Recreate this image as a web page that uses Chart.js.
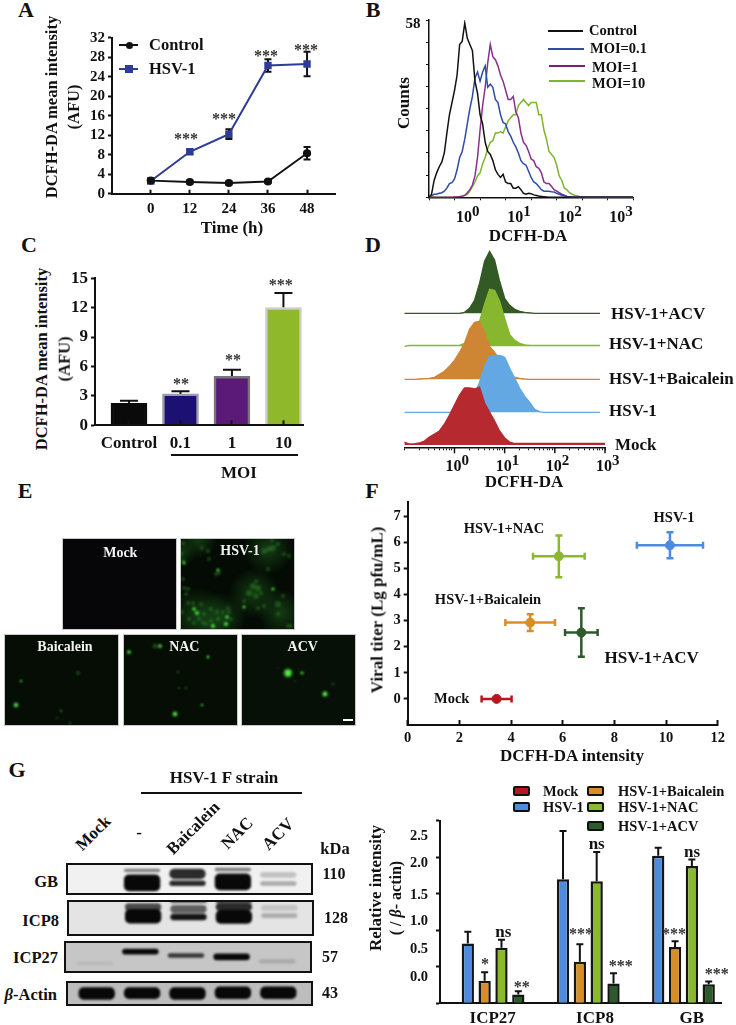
<!DOCTYPE html>
<html>
<head>
<meta charset="utf-8">
<title>HSV-1 ROS figure</title>
<script src="https://cdn.jsdelivr.net/npm/chart.js@4"></script>
<style>
  html, body { margin: 0; padding: 0; background: #fff; }
  #fig { position: relative; width: 736px; height: 1025px; overflow: hidden; font-family: "Liberation Serif", serif; font-weight: bold; color: #111; }
  #fig canvas { position: absolute; }
  .txt { position: absolute; white-space: nowrap; line-height: 1; }
  .rule { position: absolute; background: #111; }
  .blot { position: absolute; box-sizing: border-box; border: 2px solid #111; overflow: hidden; }
  .micro { position: absolute; box-sizing: border-box; border: 1px solid #c8c8c8; overflow: hidden; }
  .swatch { position: absolute; box-sizing: border-box; border: 2px solid #111; border-radius: 2px; width: 17px; height: 10px; }
</style>
</head>
<body>
<div id="fig"></div>
<script>
// Panel A
const timeHours = [0, 12, 24, 36, 48];
const controlMean = [2.7, 2.4, 2.2, 2.5, 8.3];
const controlErr = [0.4, 0.3, 0.3, 0.3, 1.3];
const hsvMean = [2.6, 8.6, 12.2, 26.3, 26.6];
const hsvErr = [0.3, 0.4, 1.0, 1.3, 2.5];

// Panel B, counts per bin, bins are log10 of intensity
const bBins = [-1, -0.95, -0.9, -0.85, -0.8, -0.75, -0.7, -0.65, -0.6, -0.55, -0.5, -0.45, -0.4, -0.35, -0.3, -0.25, -0.2, -0.15, -0.1, -0.05, 0, 0.05, 0.1, 0.15, 0.2, 0.25, 0.3, 0.35, 0.4, 0.45, 0.5, 0.55, 0.6, 0.65, 0.7, 0.75, 0.8, 0.85, 0.9, 0.95, 1, 1.05, 1.1, 1.15, 1.2, 1.25, 1.3, 1.35, 1.4, 1.45, 1.5, 1.55, 1.6, 1.65, 1.7, 1.75, 1.8, 1.85, 1.9, 1.95, 2, 2.05, 2.1, 3];
const bControl = [0, 1, 5.5, 8, 10, 11.5, 14.5, 21, 27, 31, 35, 40, 50, 51, 57, 52, 50, 48, 38, 34, 27, 24, 18, 15, 14, 12, 9, 7.5, 6.5, 7.5, 5, 4.5, 4.5, 3, 3, 3.5, 2.5, 1.3, 1, 1.3, 1.2, 0.8, 0.6, 0.4, 0.3, 0.2, 0.1];
const bMoi01 = [0, 0.5, 1, 1, 1.3, 1.5, 2, 3, 4.5, 4.8, 6, 9, 13, 15, 19, 24, 29, 33, 39, 41, 38, 41, 43, 36, 37, 36, 32, 31, 27, 24.5, 24, 21.5, 20, 18, 16.5, 14.5, 12, 11, 10.5, 8.5, 6.5, 5, 4.5, 3.5, 2.5, 2, 2, 2, 1.8, 1.7, 1.3, 1, 0.7, 0.5, 0.3, 0.2];
const bMoi1 = [0, 0, 0, 0, 0, 0, 0, 0, 0, 0, 0.1, 0.1, 0.2, 0.3, 0.6, 1.5, 2.5, 4, 7, 13, 22, 30, 36, 44, 50, 46, 45, 43, 40, 38, 35, 32, 32, 33, 28, 26, 21, 18, 17, 15, 12.5, 12, 10, 9.5, 8, 5, 4.5, 4.5, 3.5, 2.5, 2, 1.5, 1, 0.7, 0.3, 0.2];
const bMoi10 = [0, 0, 0, 0, 0, 0, 0, 0, 0, 0, 0.1, 0.2, 0.3, 0.5, 0.7, 1, 2, 3.5, 5, 7, 8, 11, 13, 16, 18, 18.5, 21, 21, 21.5, 21, 23, 25, 26, 27, 27, 30, 31, 32, 31, 30, 31, 31, 31, 27, 27, 22, 19, 15, 14, 13, 10.5, 7, 5.5, 3, 2.5, 1.5, 1, 0.7, 0.5, 0.3, 0.2, 0.1];

// Panel C
const moiLabels = ['Control', '0.1', '1', '10'];
const moiMean = [2.25, 3.2, 5.0, 12.0];
const moiErr = [0.25, 0.27, 0.66, 1.5];

// Panel D, offset histograms, bins are log10 of intensity
const dBins = [-1, -0.9, -0.8, -0.7, -0.6, -0.5, -0.4, -0.3, -0.2, -0.1, 0, 0.1, 0.2, 0.3, 0.4, 0.5, 0.6, 0.7, 0.8, 0.9, 1, 1.1, 1.2, 1.3, 1.4, 1.5, 1.6, 1.7, 1.8, 1.9, 2, 2.1, 2.2, 2.3, 2.4, 2.5, 2.6, 2.7, 2.8, 2.9, 3];
const dMock = [3, 1, 1, 2, 4, 8, 11, 14, 21, 30, 40, 50, 57, 57, 56, 58, 42, 33, 24, 14, 7, 3, 1.5, 1.5, 1.5, 1.5, 1.5, 1.5, 1.5, 1.5, 1.5, 1.5, 1.5, 1.5, 1.5, 1.5, 1.5, 1.5, 1.5, 1.5, 1.5];
const dHsv = [0, 0, 0, 0, 0, 0, 0, 0, 0, 0, 1, 2, 4, 8, 18, 30, 46, 56, 57, 57, 55, 44, 34, 24, 16, 10, 3, 0.5, 0, 0, 0, 0, 0, 0, 0, 0, 0, 0, 0, 0];
const dBaicalein = [0, 0, 0, 0.3, 0.7, 1, 2, 5, 8, 13, 19, 27, 36, 50, 57, 58, 47, 33, 27, 20, 12, 6, 2, 1, 0.3, 0, 0, 0, 0, 0, 0, 0, 0, 0, 0, 0, 0, 0, 0, 0];
const dNac = [0, 1, 1, 1, 1, 1, 1, 1, 1, 1, 1, 1, 3, 8, 14, 25, 42, 57, 56, 45, 28, 12, 6, 3, 1.5, 1, 1, 1, 1, 1, 1, 1, 1, 1, 1, 1, 1, 1, 1, 1];
const dAcv = [0, 0, 0, 0, 0, 0, 0, 0, 0, 0, 0, 0, 1, 5, 13, 30, 52, 62, 53, 32, 15, 8, 4, 2, 1, 0.5, 0, 0, 0, 0, 0, 0, 0, 0, 0, 0, 0, 0, 0, 0];
const laneBase = [2.3, 35, 68, 101, 134];

// Panel E, micrograph spots: x, y, radius read in image pixels
const hsvHaze = [[18, 1, 20], [88, 11, 26], [74, 55, 26], [18, 78, 30], [41, 80, 26], [101, 75, 24], [1, 15, 14]];
const hsvDim = [[22, 10, 2], [29, 21, 2], [4, 50, 2], [8, 51, 2], [8, 65, 2], [13, 65, 2], [2, 74, 2], [9, 81, 2], [14, 85, 2], [24, 76, 2], [37, 74, 2], [43, 74, 2], [49, 74, 2], [51, 81, 2], [38, 81, 2], [31, 83, 2], [26, 86, 2], [98, 66, 3], [103, 58, 2], [73, 48, 3], [78, 50, 3], [69, 55, 3], [76, 58, 2.5], [81, 55, 2], [64, 63, 2], [93, 10, 3], [84, 13, 3], [89, 11, 2.5], [98, 6, 2], [92, 2, 2], [104, 16, 2], [109, 18, 2], [3, 5, 2], [1, 16, 2], [3, 23, 2], [108, 88, 2], [111, 88, 2], [48, 70, 2], [31, 71, 2], [19, 81, 2], [23, 85, 2], [21, 66, 2], [6, 56, 2], [3, 41, 2], [39, 35, 2], [36, 36, 2], [98, 76, 2], [84, 68, 2], [78, 70, 2], [88, 31, 2], [76, 43, 2], [28, 13, 2]];
const hsvBright = [[93, 51, 1.3], [64, 69, 1.3], [14, 71, 1.5], [17, 75, 1.7], [46, 86, 1.7], [47, 79, 1.5], [33, 88, 1.7], [38, 32, 1.3], [4, 25, 1.3]];
const baicaleinDim = [[66, 89, 1.5], [53, 84, 1.2], [74, 39, 2]];
const baicaleinBright = [[17, 47, 1], [12, 71, 1.9], [57, 77, 0.8]];
const nacDim = [[32, 12, 2.5], [55, 38, 1.5], [63, 54, 1.5]];
const nacBright = [[6, 18, 1.6], [37, 12, 1.6], [85, 23, 1.2], [56, 54, 0.6], [79, 71, 1], [52, 80, 2]];
const acvDim = [[54, 47, 1], [92, 50, 1.5], [37, 34, 0.7]];
const acvBright = [[47, 39, 3.4], [61, 39, 1.3], [84, 60, 2.2]];

// Panel F
const titerGroups = ['Mock', 'HSV-1', 'HSV-1+NAC', 'HSV-1+Baicalein', 'HSV-1+ACV'];
const titerX = [3.44, 10.15, 5.85, 4.74, 6.72];
const titerXErr = [0.58, 1.28, 1.0, 0.96, 0.63];
const titerY = [0, 5.88, 5.46, 2.92, 2.54];
const titerYErr = [0, 0.5, 0.8, 0.32, 0.93];

// Panel G, blots: one [top, bottom] span per lane for each band, with its darkness
const blotLanes = ['Mock', '-', 'Baicalein', 'NAC', 'ACV'];
const gbUpper = [null, [0.18, 0.28], [0.18, 0.5], [0.15, 0.26], [0.28, 0.46]];
const gbUpperDark = [0, 0.5, 0.85, 0.5, 0.2];
const gbLower = [null, [0.36, 0.88], [0.55, 0.72], [0.33, 0.85], [0.57, 0.71]];
const gbLowerDark = [0, 1, 0.85, 1, 0.3];
const icp8Edge = [null, null, [0, 0.07], [0, 0.07], null];
const icp8EdgeDark = [0, 0, 0.9, 0.9, 0];
const icp8Upper = [null, [0.09, 0.3], [0.14, 0.36], [0.08, 0.3], [0.14, 0.3]];
const icp8UpperDark = [0, 0.7, 0.6, 0.85, 0.15];
const icp8Lower = [null, [0.25, 0.65], [0.38, 0.56], [0.28, 0.66], [0.37, 0.5]];
const icp8LowerDark = [0, 1, 0.95, 1, 0.25];
const icp27Band = [[0.65, 0.75], [0.24, 0.42], [0.38, 0.52], [0.39, 0.6], [0.57, 0.7]];
const icp27Dark = [0.07, 1, 0.75, 1, 0.15];
const actinBand = [[0.25, 0.75], [0.25, 0.72], [0.25, 0.75], [0.22, 0.72], [0.22, 0.72]];
const actinDark = [1, 1, 1, 1, 1];

// Panel G, quantification, order of proteins: ICP27, ICP8, GB
const proteins = ['ICP27', 'ICP8', 'GB'];
const relMock = [0, 0, 0];
const relHsv = [0.82, 1.70, 2.02];
const relHsvErr = [0.16, 0.66, 0.11];
const relBaicalein = [0.31, 0.57, 0.77];
const relBaicaleinErr = [0.115, 0.24, 0.08];
const relNac = [0.76, 1.67, 1.88];
const relNacErr = [0.11, 0.40, 0.09];
const relAcv = [0.12, 0.27, 0.26];
const relAcvErr = [0.045, 0.14, 0.04];

const fig = document.getElementById('fig');
const INK = '#111';

Chart.defaults.font.family = '"Liberation Serif", serif';
Chart.defaults.font.weight = 'bold';
Chart.defaults.font.size = 15;
Chart.defaults.color = INK;
Chart.defaults.animation = false;
Chart.defaults.responsive = false;
Chart.defaults.plugins.legend.display = false;
Chart.defaults.plugins.tooltip.enabled = false;

// error bars come from dataset.errY / dataset.errX, read through the scales
Chart.register({
  id: 'errorBars',
  beforeDatasetsDraw(chart) {
    const ctx = chart.ctx;
    chart.data.datasets.forEach((ds, d) => {
      if (!ds.errY && !ds.errX) return;
      const meta = chart.getDatasetMeta(d);
      const xs = chart.scales.x, ys = chart.scales.y;
      const cap = ds.errCap || 3.5;
      ctx.save();
      ctx.strokeStyle = ds.errColor || INK;
      ctx.lineWidth = ds.errWidth || 2;
      meta.data.forEach((el, i) => {
        const p = meta._parsed[i];
        ctx.beginPath();
        if (ds.errY && ds.errY[i]) {
          const top = ys.getPixelForValue(p.y + ds.errY[i]);
          const bot = ds.errUpper ? el.y : ys.getPixelForValue(p.y - ds.errY[i]);
          ctx.moveTo(el.x, bot); ctx.lineTo(el.x, top);
          ctx.moveTo(el.x - cap, top); ctx.lineTo(el.x + cap, top);
          if (!ds.errUpper) { ctx.moveTo(el.x - cap, bot); ctx.lineTo(el.x + cap, bot); }
        }
        if (ds.errX && ds.errX[i]) {
          const l = xs.getPixelForValue(p.x - ds.errX[i]);
          const r = xs.getPixelForValue(p.x + ds.errX[i]);
          ctx.moveTo(l, el.y); ctx.lineTo(r, el.y);
          ctx.moveTo(l, el.y - cap); ctx.lineTo(l, el.y + cap);
          ctx.moveTo(r, el.y - cap); ctx.lineTo(r, el.y + cap);
        }
        ctx.stroke();
      });
      ctx.restore();
    });
  }
});

// 10 with a raised exponent under each decade of a log10 axis
Chart.register({
  id: 'powerLabels',
  afterDraw(chart, args, opts) {
    if (!opts.decades) return;
    const ctx = chart.ctx, sx = chart.scales.x;
    ctx.save();
    ctx.fillStyle = INK;
    ctx.textBaseline = 'alphabetic';
    ctx.textAlign = 'left';
    opts.decades.forEach(d => {
      const px = sx.getPixelForValue(d);
      if (opts.majorTick) {
        ctx.strokeStyle = INK; ctx.lineWidth = 1.5;
        ctx.beginPath(); ctx.moveTo(px, sx.top); ctx.lineTo(px, sx.top + opts.majorTick); ctx.stroke();
      }
      ctx.font = 'bold 16px "Liberation Serif"';
      const w1 = ctx.measureText('10').width;
      const left = px + opts.dx - (w1 + 8) / 2;
      ctx.fillText('10', left, sx.top + opts.dy);
      ctx.font = 'bold 15px "Liberation Serif"';
      ctx.fillText(String(d), left + w1, sx.top + opts.dy - 6);
    });
    ctx.restore();
  }
});

function label(text, x, y, o = {}) {
  const el = document.createElement('span');
  el.className = 'txt';
  el.innerHTML = text;
  const ax = o.anchor === 'left' ? '0' : o.anchor === 'right' ? '-100%' : '-50%';
  el.style.left = x + 'px';
  el.style.top = y + 'px';
  el.style.fontSize = (o.size || 15) + 'px';
  if (o.color) el.style.color = o.color;
  el.style.transform = `translate(${ax},-50%)` + (o.rot ? ` rotate(${o.rot}deg)` : '');
  (o.parent || fig).appendChild(el);
}

function stars(text, x, y) {
  label(text, x, y + 4, { size: 16, color: '#333' });
}

function rule(x1, x2, y, color, h) {
  const el = document.createElement('div');
  el.className = 'rule';
  el.style.cssText = `left:${x1}px;top:${y - (h || 2) / 2}px;width:${x2 - x1}px;height:${h || 2}px;background:${color || INK}`;
  fig.appendChild(el);
}

// box and plot are [left, top, right, bottom] on the page
function plotChart(box, plot, cfg) {
  const c = document.createElement('canvas');
  c.width = box[2] - box[0];
  c.height = box[3] - box[1];
  c.style.left = box[0] + 'px';
  c.style.top = box[1] + 'px';
  fig.appendChild(c);
  const o = cfg.options;
  o.layout = { autoPadding: false, padding: { left: 0, bottom: 0, top: plot[1] - box[1], right: box[2] - plot[2] } };
  o.scales.x.afterFit = s => { s.height = box[3] - plot[3]; };
  o.scales.y.afterFit = s => { s.width = plot[0] - box[0]; };
  return new Chart(c, cfg);
}

function axis(extra) {
  return Object.assign({
    border: { color: INK, width: 2 },
    grid: { drawOnChartArea: false, color: INK, tickColor: INK, tickWidth: 2, tickLength: 4 }
  }, extra);
}

function fixedTicks(values) {
  return s => { s.ticks = values.map(v => ({ value: v })); };
}

// soft-edged fill for the out of focus patches in the micrograph
function softFill(c) {
  if (!c.raw) return 'rgba(35,110,35,0.3)';
  const x = c.chart.scales.x.getPixelForValue(c.raw.x);
  const y = c.chart.scales.y.getPixelForValue(c.raw.y);
  if (!isFinite(x) || !isFinite(y)) return 'rgba(35,110,35,0.3)'; // scales not laid out yet
  const g = c.chart.ctx.createRadialGradient(x, y, 0, x, y, c.raw.r);
  g.addColorStop(0, 'rgba(35,110,35,0.5)');
  g.addColorStop(1, 'rgba(35,110,35,0)');
  return g;
}

// Panel letters
label('A', 26, 10, { size: 22 });
label('B', 373, 10, { size: 22 });
label('C', 29, 245, { size: 22 });
label('D', 373, 245, { size: 22 });
label('E', 25, 491, { size: 22 });
label('F', 372, 491, { size: 22 });
label('G', 17, 770, { size: 22 });

// --- A ---
plotChart([60, 15, 352, 225], [112, 37.7, 335.7, 193.7], {
  type: 'line',
  data: {
    datasets: [
      { data: timeHours.map((x, i) => ({ x, y: controlMean[i] })), borderColor: '#111', backgroundColor: '#111', borderWidth: 1.8, pointRadius: 3.2, tension: 0, errY: controlErr, errWidth: 2 },
      { data: timeHours.map((x, i) => ({ x, y: hsvMean[i] })), borderColor: '#2e3c96', backgroundColor: '#2e3c96', borderWidth: 2, pointStyle: 'rect', pointRadius: 3.8, tension: 0, errY: hsvErr, errWidth: 2 }
    ]
  },
  options: {
    scales: {
      x: axis({ type: 'linear', min: -11.9, max: 56.8, afterBuildTicks: fixedTicks(timeHours),
        grid: { drawOnChartArea: false, tickColor: INK, tickWidth: 2, tickLength: -4 },
        ticks: { padding: 10, maxRotation: 0, callback: v => v } }),
      y: axis({ min: 0, max: 32, ticks: { stepSize: 4, padding: 3, autoSkip: false } })
    }
  }
});
label('DCFH-DA mean intensity', 52, 107, { size: 16.5, rot: -90 });
label('(AFU)', 74, 107, { size: 16.5, rot: -90 });
label('Time (h)', 232, 227, { size: 17 });
rule(119, 138, 45, '#111', 2);
label('Control', 149, 44.5, { anchor: 'left', size: 16.5 });
rule(119, 138, 68.7, '#2e3c96', 2);
label('HSV-1', 149, 69, { anchor: 'left', size: 16.5 });
stars('***', 186, 135); stars('***', 224, 115); stars('***', 266, 52); stars('***', 306, 45.5);

// legend markers for A, same glyphs as the datasets
(function () {
  const dot = document.createElement('div');
  dot.style.cssText = 'position:absolute;left:125.5px;top:41.5px;width:7px;height:7px;border-radius:50%;background:#111';
  fig.appendChild(dot);
  const sq = document.createElement('div');
  sq.style.cssText = 'position:absolute;left:125px;top:65px;width:7.5px;height:7.5px;background:#2e3c96';
  fig.appendChild(sq);
})();

// --- B ---
const bCurve = vals => bBins.map((x, i) => ({ x, y: vals[i] || 0 }));
plotChart([415, 5, 660, 225], [429, 20, 633.3, 197.3], {
  type: 'line',
  data: {
    datasets: [
      { data: bCurve(bControl), borderColor: '#111' },
      { data: bCurve(bMoi01), borderColor: '#2d4da3' },
      { data: bCurve(bMoi1), borderColor: '#8a2f8a' },
      { data: bCurve(bMoi10), borderColor: '#7fb52e' }
    ]
  },
  options: {
    elements: { point: { radius: 0 }, line: { borderWidth: 1.5, tension: 0 } },
    plugins: { powerLabels: { decades: [0, 1, 2, 3], dx: -12, dy: 25 } },
    scales: {
      x: axis({ type: 'linear', min: -1, max: 3, afterBuildTicks: fixedTicks([-1, -0.5, 0, 0.5, 1, 1.5, 2, 2.5, 3]),
        border: { color: INK, width: 1.5 },
        grid: { drawOnChartArea: false, tickColor: INK, tickWidth: 1, tickLength: 3 },
        ticks: { callback: () => '' } }),
      y: axis({ min: 0, max: 58, afterBuildTicks: fixedTicks([0, 7.25, 14.5, 21.75, 29, 36.25, 43.5, 50.75, 58]),
        border: { color: INK, width: 1.5 },
        grid: { drawOnChartArea: false, tickColor: INK, tickWidth: 1, tickLength: 3 },
        ticks: { display: false } })
    }
  }
});
label('58', 413, 22.7, { size: 15 });
label('Counts', 403, 103, { size: 17, rot: -90 });
label('DCFH-DA', 528, 235, { size: 17 });
rule(548, 583, 30.7, '#111');
label('Control', 589, 30, { anchor: 'left', size: 14.5 });
rule(548, 584, 49.3, '#2d4da3');
label('MOI=0.1', 590, 48.3, { anchor: 'left', size: 14.5 });
rule(549, 585, 65.7, '#7c1f7c');
label('MOI=1', 592, 67, { anchor: 'left', size: 14.5 });
rule(549, 585, 81.3, '#7fb52e');
label('MOI=10', 592, 83.3, { anchor: 'left', size: 14.5 });

// --- C ---
plotChart([70, 265, 320, 460], [95, 276.7, 303, 425.3], {
  type: 'bar',
  data: {
    datasets: [{
      data: moiMean.map((y, x) => ({ x, y })),
      backgroundColor: ['#0a0a0a', '#1c1172', '#5b1a78', '#8fb92b'],
      borderColor: ['#0a0a0a', '#9a9aa8', '#777', '#ccc'],
      borderWidth: 2.5,
      barThickness: 36,
      errY: moiErr, errUpper: true, errCap: 9, errWidth: 2
    }]
  },
  options: {
    scales: {
      x: axis({ type: 'linear', offset: false, min: -0.66, max: 3.38, afterBuildTicks: fixedTicks([0, 1, 2, 3]),
        border: { color: INK, width: 2, z: 2 },
        grid: { drawOnChartArea: false, offset: false, tickColor: INK, tickWidth: 2, tickLength: -5, z: 1 },
        ticks: { padding: 13, autoSkip: false, font: { size: 17 }, maxRotation: 0, callback: v => moiLabels[v] } }),
      y: axis({ min: 0, max: 15, ticks: { stepSize: 3, padding: 3, font: { size: 17 } } })
    }
  }
});
label('DCFH-DA mean intensity', 42, 359, { size: 16.5, rot: -90 });
label('(AFU)', 65, 359, { size: 16.5, rot: -90 });
rule(171, 298, 455, INK, 2);
label('MOI', 239, 471.5, { size: 17 });
stars('**', 181, 380); stars('**', 233, 356); stars('***', 280.7, 280.7);

// --- D ---
const dCurve = (vals, base) => vals.map((c, i) => ({ x: dBins[i], y: base + c }));
const dLanes = [
  { vals: dMock, color: '#b5292f' },
  { vals: dHsv, color: '#63a8e2' },
  { vals: dBaicalein, color: '#cf8634' },
  { vals: dNac, color: '#87b72f' },
  { vals: dAcv, color: '#335925' }
];
plotChart([390, 240, 620, 478], [404.3, 248, 605, 447.3], {
  type: 'line',
  data: {
    datasets: dLanes.map((l, i) => ({
      data: dCurve(l.vals, laneBase[i]),
      borderColor: l.color,
      backgroundColor: l.color,
      borderWidth: 1.3,
      pointRadius: 0,
      tension: 0,
      fill: { target: { value: laneBase[i] } }
    }))
  },
  options: {
    plugins: { powerLabels: { decades: [0, 1, 2, 3], dx: 3, dy: 24, majorTick: 6 } },
    scales: {
      x: axis({ type: 'linear', min: -1, max: 3,
        afterBuildTicks: fixedTicks([-1, -0.7, -0.52, -0.4, -0.3, -0.22, -0.15, -0.1, -0.05, 0, 0.3, 0.48, 0.6, 0.7, 0.78, 0.85, 0.9, 0.95, 1, 1.3, 1.48, 1.6, 1.7, 1.78, 1.85, 1.9, 1.95, 2, 2.3, 2.48, 2.6, 2.7, 2.78, 2.85, 2.9, 2.95, 3]),
        border: { color: INK, width: 1.5 },
        grid: { drawOnChartArea: false, tickColor: INK, tickWidth: 1, tickLength: 3 },
        ticks: { autoSkip: false, callback: () => '' } }),
      y: { min: 0, max: 199.3, ticks: { display: false }, grid: { display: false }, border: { display: false } }
    }
  }
});
label('HSV-1+ACV', 611, 313, { anchor: 'left', size: 17 });
label('HSV-1+NAC', 609, 343, { anchor: 'left', size: 17 });
label('HSV-1+Baicalein', 609, 378, { anchor: 'left', size: 17 });
label('HSV-1', 609, 410, { anchor: 'left', size: 17 });
label('Mock', 615, 444, { anchor: 'left', size: 17 });
label('DCFH-DA', 524, 481, { size: 17 });

// --- E ---
function micrograph(left, top, bg, name, lx, ly, haze, dim, bright) {
  const wrap = document.createElement('div');
  wrap.className = 'micro';
  wrap.style.cssText = `left:${left}px;top:${top}px;width:115px;height:92px;background:${bg}`;
  fig.appendChild(wrap);
  const c = document.createElement('canvas');
  c.width = 115; c.height = 92;
  c.style.cssText = 'left:-1px;top:-1px;filter:blur(0.8px)';
  wrap.appendChild(c);
  const spots = (list, k) => list.map(s => ({ x: s[0], y: s[1], r: s[2] * k }));
  new Chart(c, {
    type: 'bubble',
    data: {
      datasets: [
        { data: spots(bright, 1), backgroundColor: 'rgba(90,235,70,0.95)', borderWidth: 0 },
        { data: spots(bright, 1.6), backgroundColor: 'rgba(60,190,50,0.28)', borderWidth: 0 },
        { data: spots(dim, 1), backgroundColor: 'rgba(50,140,45,0.45)', borderWidth: 0 },
        { data: spots(haze, 1), backgroundColor: softFill, borderWidth: 0 }
      ]
    },
    options: {
      layout: { autoPadding: false },
      scales: {
        x: { display: false, min: 0, max: 115 },
        y: { display: false, min: 0, max: 92, reverse: true }
      }
    }
  });
  label(name, lx - left, ly - top, { parent: wrap, color: '#f2f2f2', size: 14 });
}
micrograph(62.3, 538, '#060608', 'Mock', 119.3, 551.7, [], [], []);
micrograph(180.3, 538, '#040a04', 'HSV-1', 239, 550, hsvHaze, hsvDim, hsvBright);
micrograph(4.3, 634.3, '#050d05', 'Baicalein', 64, 645.7, [], baicaleinDim, baicaleinBright);
micrograph(123, 634.3, '#050d05', 'NAC', 183.3, 645.7, [], nacDim, nacBright);
micrograph(241, 634.3, '#061006', 'ACV', 301.7, 645.7, [], acvDim, acvBright);
rule(343.3, 353.3, 720, '#fff', 2);

// --- F ---
const titerColors = ['#b8161f', '#4d8be0', '#8ab92d', '#d98e25', '#2b5a2b'];
plotChart([385, 490, 735, 748], [407.7, 500.7, 722.7, 725], {
  type: 'scatter',
  data: {
    datasets: titerGroups.map((g, i) => ({
      label: g,
      data: [{ x: titerX[i], y: titerY[i] }],
      backgroundColor: titerColors[i],
      borderColor: titerColors[i],
      pointRadius: 4.5,
      errX: [titerXErr[i]],
      errY: [titerYErr[i]],
      errColor: titerColors[i],
      errWidth: 2.5,
      errCap: 3.5
    }))
  },
  options: {
    scales: {
      x: axis({ type: 'linear', min: 0, max: 12,
        grid: { drawOnChartArea: false, tickColor: INK, tickWidth: 2, tickLength: -5 },
        ticks: { stepSize: 2, padding: 10, maxRotation: 0, font: { size: 14.5 } } }),
      y: axis({ min: -1, max: 7.55, afterBuildTicks: fixedTicks([0, 1, 2, 3, 4, 5, 6, 7]),
        ticks: { padding: 3, font: { size: 14.5 }, callback: v => v } })
    }
  }
});
label('HSV-1', 674, 516.7, { size: 14.5 });
label('HSV-1+NAC', 504, 528, { size: 14.5 });
label('HSV-1+Baicalein', 488, 599, { size: 14.5 });
label('HSV-1+ACV', 651.7, 656.7, { size: 17 });
label('Mock', 451.7, 698, { size: 14.5 });
label('Viral titer (Lg pfu/mL)', 377, 610, { size: 17, rot: -90 });
label('DCFH-DA intensity', 572, 755, { size: 17 });

// --- G blots ---
function blot(left, top, right, bottom, bg, bands) {
  const w = right - left, h = bottom - top;
  const wrap = document.createElement('div');
  wrap.className = 'blot';
  wrap.style.cssText = `left:${left}px;top:${top}px;width:${w}px;height:${h}px;background:${bg}`;
  fig.appendChild(wrap);
  const c = document.createElement('canvas');
  c.width = w; c.height = h;
  c.style.cssText = 'left:-2px;top:-2px;filter:blur(1.1px)';
  wrap.appendChild(c);
  new Chart(c, {
    type: 'bar',
    data: {
      labels: blotLanes,
      datasets: bands.map(b => ({
        data: b.span,
        backgroundColor: b.dark.map(d => `rgba(8,8,8,${d})`),
        grouped: false,
        barPercentage: 0.8,
        categoryPercentage: 1,
        borderRadius: 5,
        borderSkipped: false
      }))
    },
    options: {
      layout: { padding: { left: 8, right: 12 } },
      scales: {
        x: { display: false },
        y: { display: false, min: 0, max: 1, reverse: true }
      }
    }
  });
}
blot(66, 863, 313, 895, '#f1f1f1', [{ span: gbUpper, dark: gbUpperDark }, { span: gbLower, dark: gbLowerDark }]);
blot(67, 900, 314, 936, '#e4e4e4', [{ span: icp8Edge, dark: icp8EdgeDark }, { span: icp8Upper, dark: icp8UpperDark }, { span: icp8Lower, dark: icp8LowerDark }]);
blot(64, 941, 312, 973, '#c6c6c6', [{ span: icp27Band, dark: icp27Dark }]);
blot(66, 981, 313, 1006, '#bdbdbd', [{ span: actinBand, dark: actinDark }]);

label('GB', 58, 881.7, { anchor: 'right', size: 16.5 });
label('ICP8', 59, 920.7, { anchor: 'right', size: 16.5 });
label('ICP27', 58, 958, { anchor: 'right', size: 16.5 });
label('<i>β</i>-Actin', 57, 995, { anchor: 'right', size: 16.5 });
label('kDa', 335, 849, { size: 16.5 });
label('110', 334, 874, { size: 16 });
label('128', 336, 917.7, { size: 16 });
label('57', 330, 956.7, { size: 16 });
label('43', 330, 993, { size: 16 });
label('HSV-1 F strain', 224, 777, { size: 17 });
rule(140.7, 301.7, 793.3, INK, 2);
label('Mock', 93, 833, { size: 17, rot: -45 });
label('-', 139, 832, { size: 17 });
label('Baicalein', 193, 828, { size: 17, rot: -45 });
label('NAC', 236.7, 833, { size: 17, rot: -45 });
label('ACV', 278, 834, { size: 17, rot: -45 });

// --- G quantification ---
const relColors = ['#b8161f', '#4d8be0', '#d98e25', '#8ab92d', '#2b5a2b'];
const relSeries = [
  { name: 'Mock', vals: relMock },
  { name: 'HSV-1', vals: relHsv, err: relHsvErr },
  { name: 'HSV-1+Baicalein', vals: relBaicalein, err: relBaicaleinErr },
  { name: 'HSV-1+NAC', vals: relNac, err: relNacErr },
  { name: 'HSV-1+ACV', vals: relAcv, err: relAcvErr }
];
plotChart([425, 810, 735, 1010], [440, 820.7, 721.7, 1003.3], {
  type: 'bar',
  data: {
    datasets: relSeries.map((s, i) => ({
      label: s.name,
      data: s.vals.map((y, x) => ({ x, y })),
      backgroundColor: relColors[i],
      borderColor: '#151515',
      borderWidth: s.err ? 2.5 : 0,
      categoryPercentage: 0.884,
      barPercentage: 0.73,
      errY: s.err, errUpper: true, errCap: 3.5, errWidth: 2
    }))
  },
  options: {
    scales: {
      x: axis({ type: 'linear', offset: false, min: -0.469, max: 2.49, afterBuildTicks: fixedTicks([0, 1, 2]),
        grid: { drawOnChartArea: false, offset: false, drawTicks: false },
        ticks: { display: false } }),
      y: axis({ min: 0, max: 2.5, ticks: { display: false, stepSize: 0.5 } })
    }
  }
});
label('2.5', 419, 835, { size: 14.5 });
label('2.0', 419, 862.3, { size: 14.5 });
label('1.5', 419, 893.7, { size: 14.5 });
label('1.0', 419, 920, { size: 14.5 });
label('0.5', 419, 947.7, { size: 14.5 });
label('0.0', 419, 976, { size: 14.5 });
label('Relative intensity', 375, 888, { size: 17, rot: -90 });
label('( / <i>β</i>- actin)', 396, 898, { size: 16, rot: -90 });
label(proteins[0], 492.7, 1017, { size: 17 });
label(proteins[1], 595, 1017, { size: 17 });
label(proteins[2], 691.7, 1017, { size: 17 });
stars('*', 485, 960); stars('**', 521.7, 982.7); stars('***', 581, 930); stars('***', 620.7, 962); stars('***', 674, 930); stars('***', 716.7, 970);
label('ns', 503.3, 931, { size: 17 });
label('ns', 596.7, 842.7, { size: 17 });
label('ns', 692, 850.7, { size: 17 });

// legend for the bars
[['Mock', 0, 512.7, 791, 543], ['HSV-1', 1, 512.7, 807.3, 543], ['HSV-1+Baicalein', 2, 587.3, 791, 618], ['HSV-1+NAC', 3, 587.3, 807, 618], ['HSV-1+ACV', 4, 587.3, 826, 618]].forEach(row => {
  const sw = document.createElement('div');
  sw.className = 'swatch';
  sw.style.left = row[2] + 'px';
  sw.style.top = (row[3] - 5) + 'px';
  sw.style.background = relColors[row[1]];
  fig.appendChild(sw);
  label(row[0], row[4], row[3], { anchor: 'left', size: 14.5 });
});
</script>
</body>
</html>
